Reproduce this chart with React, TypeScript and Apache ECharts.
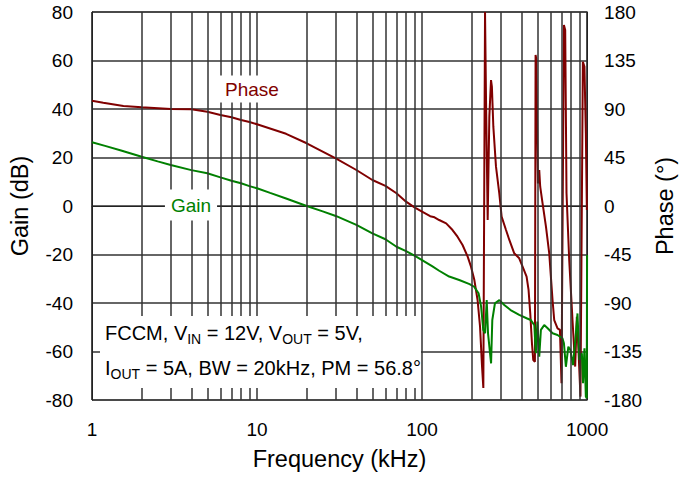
import React, { useEffect, useRef } from "react";
import * as echarts from "echarts";

// Frequency (kHz) / Gain (dB) readings
const gainFreq = [1, 1.2, 1.5, 2, 2.5, 3, 4, 5, 6, 7, 8, 9, 10, 12, 15, 20, 25, 30, 40, 50, 60, 70, 80, 90, 100, 115, 127, 146, 168, 194, 207, 220, 228, 235, 241, 246.5, 251, 262, 266.5, 276.5, 294, 315, 344, 388, 430, 456, 479, 489, 500, 513, 525, 550, 577, 618, 662, 710, 724, 744, 770, 792, 822, 856, 875, 897, 930, 945, 964, 983, 995, 1000];
const gainDb = [26.3, 24.8, 22.9, 20.3, 18.4, 16.9, 14.8, 13.5, 11.8, 10.4, 9.4, 8.2, 7.3, 5.4, 3.1, 0.0, -2.2, -4.1, -7.8, -11.3, -13.7, -16.8, -18.6, -20.5, -22.3, -24.8, -26.7, -29.1, -30.5, -32.2, -33.3, -36.0, -41.5, -51.1, -52.5, -38.8, -52.4, -64.9, -47.0, -40.1, -38.8, -40.8, -42.9, -44.9, -46.3, -47.0, -49.1, -60.7, -47.7, -62.1, -51.1, -49.1, -50.4, -52.5, -53.2, -54.6, -56.6, -66.3, -58.0, -59.4, -65.6, -52.5, -44.3, -63.5, -60.7, -73.1, -58.7, -78.6, -79.3, -20.2];

// Frequency (kHz) / Phase (deg) readings
const phaseFreq = [1, 1.17, 1.55, 2, 3, 4, 5, 6, 7, 8, 9, 10, 15, 20, 30, 40, 50, 60, 70, 80, 90, 100, 112, 119, 127, 140, 153, 164, 176, 189, 198, 207.5, 217, 224.6, 231, 235.2, 240.8, 244.2, 249.9, 255.7, 261.8, 265, 270.4, 280.6, 293.8, 303.5, 322.7, 338, 362, 388, 406.7, 430, 442, 452.6, 463.4, 472, 483, 487.5, 492, 503.9, 513, 520, 537.5, 563.5, 589.8, 617.6, 632.4, 662.3, 684.7, 700, 723.8, 737, 750.6, 779.4, 816, 847, 867, 887, 912, 943, 964, 983, 997];
const phaseDeg = [97.7, 95.9, 92.8, 91.6, 90.0, 89.7, 87.5, 84.4, 82.3, 79.8, 77.9, 75.8, 67.0, 58.2, 44.2, 33.4, 24.1, 18.6, 11.8, 4.0, -1.2, -5.3, -9.5, -10.5, -13.0, -16.1, -22.3, -28.5, -36.2, -47.0, -56.3, -68.7, -87.2, -112.0, -149.0, -168.9, 180.0, 98.4, -13.0, 82.9, 116.9, 110.7, 73.6, 36.5, 11.8, -9.9, -22.3, -31.5, -43.9, -48.5, -56.3, -65.6, -77.9, -99.6, -127.4, -142.9, -144.5, 140.1, 137.0, 21.0, 33.4, 17.9, 2.5, -19.2, -43.9, -87.2, -105.8, -113.5, -115.0, -164.5, 168.0, 163.3, 11.8, -50.0, -105.8, -149.0, -102.7, -133.6, -176.9, 133.9, 129.3, 67.4, -3.7];

// Minor (2..9 per decade) vertical grid lines
const minorGridFreqs = [2, 3, 4, 5, 6, 7, 8, 9, 20, 30, 40, 50, 60, 70, 80, 90, 200, 300, 400, 500, 600, 700, 800, 900];

const FONT = "'Liberation Sans', Arial, Helvetica, sans-serif";
const GRID = "#333333";

export default function App() {
  const ref = useRef<HTMLDivElement>(null);

  useEffect(() => {
    document.body.style.margin = "0";
    if (!ref.current) return;
    const chart = echarts.init(ref.current, undefined, { renderer: "svg" });

    const gainData = gainFreq.map((f, i) => [f, gainDb[i]]);
    const phaseData = phaseFreq.map((f, i) => [f, phaseDeg[i]]);

    chart.setOption({
      animation: false,
      backgroundColor: "#ffffff",
      textStyle: { fontFamily: FONT },
      grid: {
        left: 92,
        right: 97,
        top: 12,
        bottom: 81,
        show: true,
        borderColor: "#222",
        borderWidth: 1,
        backgroundColor: "transparent",
      },
      xAxis: {
        type: "log",
        logBase: 10,
        min: 1,
        max: 1000,
        name: "Frequency (kHz)",
        nameLocation: "middle",
        nameGap: 47,
        nameTextStyle: { fontSize: 23.5, color: "#000", fontFamily: FONT },
        axisLine: { show: true, lineStyle: { color: "#222", width: 1 } },
        axisTick: { show: false },
        axisLabel: {
          fontSize: 19,
          color: "#000",
          margin: 20,
          fontFamily: FONT,
          formatter: (v: number) => String(Math.round(v)),
        },
        splitLine: { show: true, lineStyle: { color: GRID, width: 1.5 } },
      },
      yAxis: [
        {
          type: "value",
          min: -80,
          max: 80,
          interval: 20,
          name: "Gain (dB)",
          nameLocation: "middle",
          nameRotate: 90,
          nameGap: 60,
          nameTextStyle: { fontSize: 23.5, color: "#000", fontFamily: FONT },
          axisLine: { show: true, lineStyle: { color: "#222", width: 1 } },
          axisTick: { show: false },
          axisLabel: { fontSize: 19, color: "#000", margin: 19, fontFamily: FONT },
          splitLine: { show: true, lineStyle: { color: GRID, width: 1.5 } },
        },
        {
          type: "value",
          position: "right",
          min: -180,
          max: 180,
          interval: 45,
          name: "Phase (°)",
          nameLocation: "middle",
          nameRotate: 90,
          nameGap: 56,
          nameTextStyle: { fontSize: 23.5, color: "#000", fontFamily: FONT },
          axisLine: { show: true, lineStyle: { color: "#222", width: 1 } },
          axisTick: { show: false },
          axisLabel: { fontSize: 19, color: "#000", margin: 17, fontFamily: FONT },
          splitLine: { show: false },
        },
      ],
      series: [
        {
          name: "minor-grid",
          type: "line",
          data: [],
          xAxisIndex: 0,
          yAxisIndex: 0,
          silent: true,
          z: 1,
          markLine: {
            silent: true,
            symbol: "none",
            label: { show: false },
            lineStyle: { color: GRID, width: 1.5, type: "solid" },
            emphasis: { disabled: true },
            data: minorGridFreqs.map((f) => ({ xAxis: f })),
          },
        },
        {
          name: "Phase",
          type: "line",
          yAxisIndex: 1,
          data: phaseData,
          showSymbol: false,
          symbol: "none",
          z: 3,
          lineStyle: { color: "#800000", width: 2 },
          itemStyle: { color: "#800000" },
        },
        {
          name: "Gain",
          type: "line",
          yAxisIndex: 0,
          data: gainData,
          showSymbol: false,
          symbol: "none",
          z: 4,
          lineStyle: { color: "#008000", width: 2 },
          itemStyle: { color: "#008000" },
        },
      ],
      graphic: [
        {
          type: "text",
          x: 252,
          y: 89,
          z: 10,
          style: {
            text: "Phase",
            fill: "#800000",
            font: `19px ${FONT}`,
            align: "center",
            verticalAlign: "middle",
            backgroundColor: "#fff",
            padding: [4, 7],
          },
        },
        {
          type: "text",
          x: 191,
          y: 205,
          z: 10,
          style: {
            text: "Gain",
            fill: "#008000",
            font: `19px ${FONT}`,
            align: "center",
            verticalAlign: "middle",
            backgroundColor: "#fff",
            padding: [6, 6],
          },
        },
        {
          type: "rect",
          z: 10,
          shape: { x: 100, y: 316, width: 321, height: 72 },
          style: { fill: "#fff" },
        },
        {
          type: "text",
          x: 105,
          y: 333,
          z: 11,
          style: {
            text: "{n|FCCM, V}{s|IN}{n| = 12V, V}{s|OUT}{n| = 5V,}",
            verticalAlign: "middle",
            align: "left",
            rich: {
              n: { fontSize: 20, fontFamily: FONT, fill: "#000", lineHeight: 26 },
              s: { fontSize: 14, fontFamily: FONT, fill: "#000", verticalAlign: "bottom" },
            },
          },
        },
        {
          type: "text",
          x: 105,
          y: 368,
          z: 11,
          style: {
            text: "{n|I}{s|OUT}{n| = 5A, BW = 20kHz, PM = 56.8°}",
            verticalAlign: "middle",
            align: "left",
            rich: {
              n: { fontSize: 20, fontFamily: FONT, fill: "#000", lineHeight: 26 },
              s: { fontSize: 14, fontFamily: FONT, fill: "#000", verticalAlign: "bottom" },
            },
          },
        },
      ],
    });

    return () => chart.dispose();
  }, []);

  return <div ref={ref} style={{ width: 685, height: 481 }} />;
}
